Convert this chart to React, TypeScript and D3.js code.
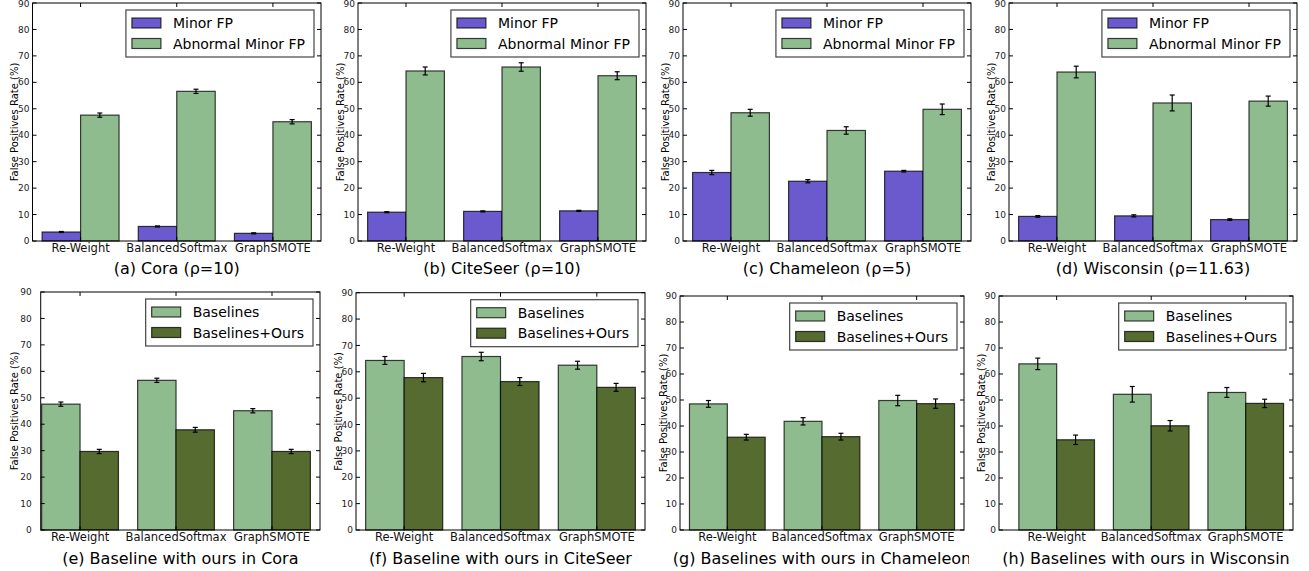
import React from 'react'
import { scaleLinear } from 'd3'

const groups = ['Re-Weight', 'BalancedSoftmax', 'GraphSMOTE']
const yTicks = [0, 10, 20, 30, 40, 50, 60, 70, 80, 90]

// values (%), error = half bar length
const coraMinor = [3.4, 5.5, 2.9]
const coraMinorErr = [0.2, 0.2, 0.2]
const coraAbnormal = [47.6, 56.6, 45.1]
const coraAbnormalErr = [0.8, 0.8, 0.8]
const coraOurs = [29.7, 37.9, 29.7]
const coraOursErr = [0.8, 0.9, 0.8]

const citeseerMinor = [10.9, 11.2, 11.4]
const citeseerMinorErr = [0.2, 0.2, 0.2]
const citeseerAbnormal = [64.3, 65.8, 62.5]
const citeseerAbnormalErr = [1.5, 1.6, 1.5]
const citeseerOurs = [57.8, 56.3, 54.1]
const citeseerOursErr = [1.6, 1.5, 1.5]

const chameleonMinor = [25.9, 22.6, 26.4]
const chameleonMinorErr = [0.8, 0.6, 0.3]
const chameleonAbnormal = [48.5, 41.8, 49.8]
const chameleonAbnormalErr = [1.3, 1.4, 2.0]
const chameleonOurs = [35.7, 35.9, 48.6]
const chameleonOursErr = [1.1, 1.3, 1.8]

const wisconsinMinor = [9.3, 9.5, 8.1]
const wisconsinMinorErr = [0.3, 0.4, 0.3]
const wisconsinAbnormal = [63.9, 52.2, 52.9]
const wisconsinAbnormalErr = [2.2, 3.0, 1.9]
const wisconsinOurs = [34.7, 40.1, 48.7]
const wisconsinOursErr = [1.8, 2.0, 1.6]

const topLegend = ['Minor FP', 'Abnormal Minor FP']
const bottomLegend = ['Baselines', 'Baselines+Ours']

const titles = [
  '(a) Cora (ρ=10)',
  '(b) CiteSeer (ρ=10)',
  '(c) Chameleon (ρ=5)',
  '(d) Wisconsin (ρ=11.63)',
  '(e) Baseline with ours in Cora',
  '(f) Baseline with ours in CiteSeer',
  '(g) Baselines with ours in Chameleon',
  '(h) Baselines with ours in Wisconsin',
]

const PURPLE = '#6a5acd'
const GREEN = '#8fbc8f'
const OLIVE = '#556b2f'
const FONT = 'DejaVu Sans, sans-serif'

const panels = [
  { a: coraMinor, ae: coraMinorErr, b: coraAbnormal, be: coraAbnormalErr, legend: topLegend, ca: PURPLE, cb: GREEN },
  { a: citeseerMinor, ae: citeseerMinorErr, b: citeseerAbnormal, be: citeseerAbnormalErr, legend: topLegend, ca: PURPLE, cb: GREEN },
  { a: chameleonMinor, ae: chameleonMinorErr, b: chameleonAbnormal, be: chameleonAbnormalErr, legend: topLegend, ca: PURPLE, cb: GREEN },
  { a: wisconsinMinor, ae: wisconsinMinorErr, b: wisconsinAbnormal, be: wisconsinAbnormalErr, legend: topLegend, ca: PURPLE, cb: GREEN },
  { a: coraAbnormal, ae: coraAbnormalErr, b: coraOurs, be: coraOursErr, legend: bottomLegend, ca: GREEN, cb: OLIVE },
  { a: citeseerAbnormal, ae: citeseerAbnormalErr, b: citeseerOurs, be: citeseerOursErr, legend: bottomLegend, ca: GREEN, cb: OLIVE },
  { a: chameleonAbnormal, ae: chameleonAbnormalErr, b: chameleonOurs, be: chameleonOursErr, legend: bottomLegend, ca: GREEN, cb: OLIVE },
  { a: wisconsinAbnormal, ae: wisconsinAbnormalErr, b: wisconsinOurs, be: wisconsinOursErr, legend: bottomLegend, ca: GREEN, cb: OLIVE },
]

// axes boxes of each sub-figure
const boxes = [
  { l: 32.5, r: 321, t: 3, b: 241, x0: -0.1, pad: 3, yl: 18, clip: [0, 326] },
  { l: 358, r: 646, t: 3, b: 241, x0: -0.1, pad: 3, yl: 18, clip: [326, 652] },
  { l: 683, r: 971, t: 3, b: 241, x0: -0.1, pad: 3, yl: 18, clip: [652, 974] },
  { l: 1009, r: 1297, t: 3, b: 241, x0: -0.1, pad: 3, yl: 18, clip: [974, 1309] },
  { l: 40.7, r: 320, t: 292, b: 530, x0: -0.01, pad: 9, yl: 26, clip: [0, 326] },
  { l: 356, r: 645, t: 292.7, b: 530, x0: -0.1, pad: 3, yl: 18, clip: [326, 652] },
  { l: 680, r: 964, t: 296, b: 530, x0: -0.1, pad: 3, yl: 17, clip: [652, 969] },
  { l: 999, r: 1293, t: 296, b: 530, x0: -0.21, pad: 3, yl: 18, clip: [969, 1309] },
]

let ctx: CanvasRenderingContext2D | null = null
function textWidth(s: string, size: number) {
  if (!ctx) ctx = document.createElement('canvas').getContext('2d')
  if (!ctx) return s.length * size * 0.58
  ctx.font = `${size}px DejaVu Sans`
  return ctx.measureText(s).width
}

function Panel({ i }: { i: number }) {
  const p = panels[i]
  const bx = boxes[i]
  const x = scaleLinear().domain([bx.x0, 2.9]).range([bx.l, bx.r])
  const y = scaleLinear().domain([0, 90]).range([bx.b, bx.t])
  const bw = x(0.4) - x(0)
  const row = i < 4 ? 0 : 1
  const lw = 47 + Math.max(...p.legend.map(s => textWidth(s, 14))) + 9
  const lx = bx.r - 7 - lw
  const ly = bx.t + 7

  const series = [
    { v: p.a, e: p.ae, c: p.ca, off: 0 },
    { v: p.b, e: p.be, c: p.cb, off: 0.4 },
  ]

  return (
    <g clipPath={`url(#clip${i})`}>
      <clipPath id={`clip${i}`}>
        <rect x={bx.clip[0]} y={row ? 282 : 0} width={bx.clip[1] - bx.clip[0]} height={row ? 289 : 282} />
      </clipPath>
      {series.map((s, si) =>
        s.v.map((v, gi) => (
          <rect key={`b${si}${gi}`} x={x(gi + s.off)} y={y(v)} width={bw} height={y(0) - y(v)}
            fill={s.c} stroke="#000" strokeOpacity={0.75} strokeWidth={1.2} />
        ))
      )}
      {series.map((s, si) =>
        s.v.map((v, gi) => {
          const cx = x(gi + s.off + 0.2)
          return (
            <g key={`e${si}${gi}`} stroke="#000" strokeWidth={1.2}>
              <line x1={cx} x2={cx} y1={y(v - s.e[gi])} y2={y(v + s.e[gi])} />
              <line x1={cx - 2.5} x2={cx + 2.5} y1={y(v - s.e[gi])} y2={y(v - s.e[gi])} />
              <line x1={cx - 2.5} x2={cx + 2.5} y1={y(v + s.e[gi])} y2={y(v + s.e[gi])} />
            </g>
          )
        })
      )}
      <rect x={bx.l} y={bx.t} width={bx.r - bx.l} height={bx.b - bx.t} fill="none" stroke="#000" strokeWidth={1} />
      {yTicks.map(t => (
        <g key={`yt${t}`}>
          <line x1={bx.l} x2={bx.l + 4} y1={y(t)} y2={y(t)} stroke="#000" />
          <line x1={bx.r - 4} x2={bx.r} y1={y(t)} y2={y(t)} stroke="#000" />
          <text x={bx.l - bx.pad} y={Math.max(y(t), 4)} dy="0.35em" textAnchor="end" fontSize={9} fill="#222" fontFamily={FONT}>{t}</text>
        </g>
      ))}
      {groups.map((g, gi) => (
        <g key={`xt${gi}`}>
          <line x1={x(gi + 0.4)} x2={x(gi + 0.4)} y1={bx.b} y2={bx.b - 4} stroke="#000" />
          <line x1={x(gi + 0.4)} x2={x(gi + 0.4)} y1={bx.t} y2={bx.t + 4} stroke="#000" />
          <text x={x(gi + 0.4)} y={bx.b + 11} textAnchor="middle" fontSize={11.5} fill="#111" fontFamily={FONT}>{g}</text>
        </g>
      ))}
      <text transform={`translate(${bx.l - bx.yl},${(bx.t + bx.b) / 2}) rotate(-90)`} textAnchor="middle" dy="0.35em"
        fontSize={10} fill="#000" fontFamily={FONT}>False Positives Rate (%)</text>
      <g>
        <rect x={lx} y={ly} width={lw} height={47} fill="#fff" stroke="#444" strokeWidth={1.2} />
        {p.legend.map((s, k) => {
          const cy = ly + 13 + k * 20.5
          return (
            <g key={s}>
              <rect x={lx + 6} y={cy - 5} width={29} height={10} fill={k ? p.cb : p.ca} stroke="#000" strokeOpacity={0.75} strokeWidth={1.2} />
              <text x={lx + 47} y={cy} dy="0.36em" fontSize={14} fill="#000" fontFamily={FONT}>{s}</text>
            </g>
          )
        })}
      </g>
      <text x={(bx.l + bx.r) / 2} y={row ? 564 : 274} textAnchor="middle" fontSize={16} fill="#000" fontFamily={FONT}>{titles[i]}</text>
    </g>
  )
}

export default function App() {
  return (
    <svg width={1309} height={571} style={{ position: 'absolute', left: 0, top: 0, background: '#fff' }}>
      <rect width={1309} height={571} fill="#fff" />
      {panels.map((_, i) => <Panel key={i} i={i} />)}
    </svg>
  )
}
